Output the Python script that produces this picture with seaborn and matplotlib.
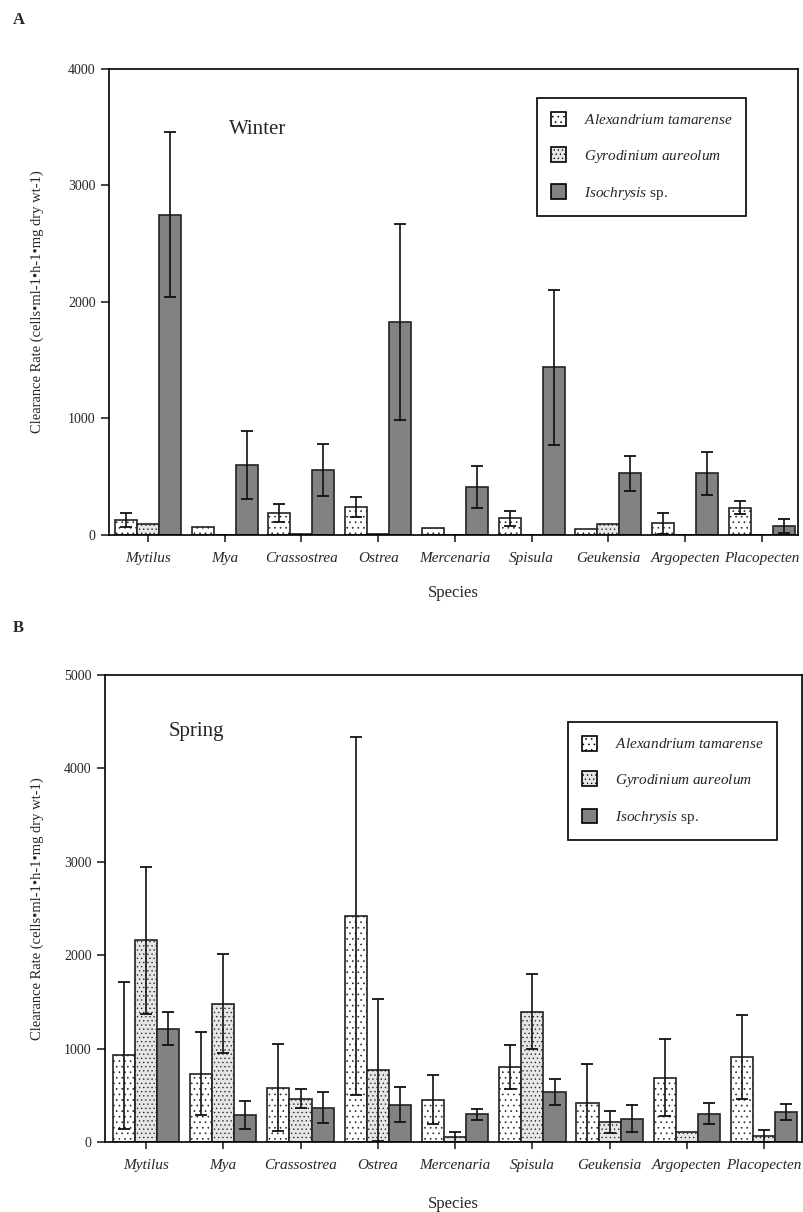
import numpy as np
import pandas as pd
import matplotlib
matplotlib.use("Agg")
import matplotlib.pyplot as plt
import seaborn as sns
from matplotlib.patches import Patch

species = ["Mytilus", "Mya", "Crassostrea", "Ostrea", "Mercenaria",
           "Spisula", "Geukensia", "Argopecten", "Placopecten"]
algae = ["Alexandrium tamarense", "Gyrodinium aureolum", "Isochrysis sp."]

# winter means and SDs (cells/ml/h/mg dry wt)
winter_alex = [129, 70, 190, 240, 60, 145, 50, 100, 235]
winter_alex_sd = [60, 0, 75, 85, 0, 65, 0, 90, 55]
winter_gyro = [95, 0, 10, 10, 0, 0, 90, 0, 0]
winter_gyro_sd = [0, 0, 0, 0, 0, 0, 0, 0, 0]
winter_iso = [2750, 600, 558, 1825, 410, 1440, 530, 530, 75]
winter_iso_sd = [705, 295, 220, 840, 180, 665, 150, 185, 60]

# spring means and SDs
spring_alex = [928, 732, 582, 2418, 453, 803, 418, 689, 910]
spring_alex_sd = [786, 440, 464, 1920, 265, 240, 420, 410, 450]
spring_gyro = [2160, 1482, 464, 775, 54, 1393, 214, 107, 61]
spring_gyro_sd = [785, 525, 100, 760, 55, 400, 122, 0, 62]
spring_iso = [1214, 286, 368, 400, 296, 536, 250, 304, 321]
spring_iso_sd = [180, 150, 165, 185, 62, 140, 145, 115, 90]

sns.set_style("ticks")
plt.rcParams["font.family"] = ["Liberation Serif", "DejaVu Serif"]
plt.rcParams["mathtext.fontset"] = "custom"
plt.rcParams["mathtext.rm"] = "Liberation Serif"
plt.rcParams["mathtext.it"] = "Liberation Serif:italic"
plt.rcParams["hatch.linewidth"] = 0.45

faces = ["white", "#e6e6e6", "#828282"]
hatches = ["...", "....", ""]
legend_labels = [r"$\mathit{Alexandrium\ tamarense}$",
                 r"$\mathit{Gyrodinium\ aureolum}$",
                 r"$\mathit{Isochrysis}$ sp."]
ylab = "Clearance Rate (cells\u2022ml-1\u2022h-1\u2022mg dry wt-1)"


def make_frame(means, sds):
    rows = []
    for alga, m, s in zip(algae, means, sds):
        for sp, v, e in zip(species, m, s):
            rows.append({"Species": sp, "Alga": alga, "Rate": v, "SD": e})
    return pd.DataFrame(rows)


def draw_panel(ax, df, ymax, xlim, season, season_xy, leg_anchor, ylab_x, xlab_y):
    sns.barplot(data=df, x="Species", y="Rate", hue="Alga", order=species,
                hue_order=algae, palette=faces, width=0.86, errorbar=None,
                edgecolor="#222222", linewidth=1.2, saturation=1, ax=ax)
    bar_groups = list(ax.containers)[:3]
    for i, cont in enumerate(bar_groups):
        sub = df[df["Alga"] == algae[i]].set_index("Species").loc[species]
        for bar, (_, row) in zip(cont, sub.iterrows()):
            bar.set_hatch(hatches[i])
            if row["SD"] <= 0:
                continue
            xc = bar.get_x() + bar.get_width() / 2
            h = bar.get_height()
            lo = min(row["SD"], h)
            ax.errorbar(xc, h, yerr=[[lo], [row["SD"]]], fmt="none",
                        ecolor="#111111", elinewidth=1.2, capsize=4,
                        capthick=1.3, zorder=4)
    ax.get_legend().remove()
    handles = [Patch(facecolor=faces[i], edgecolor="black", hatch=hatches[i],
                     linewidth=1.2, label=legend_labels[i]) for i in range(3)]
    ax.legend(handles=handles, loc="upper left", bbox_to_anchor=leg_anchor,
              fontsize=11, frameon=True, fancybox=False, edgecolor="black",
              framealpha=1, handlelength=1.0, handleheight=1.1,
              handletextpad=1.2, labelspacing=1.3, borderpad=0.9,
              borderaxespad=0)
    ax.get_legend().get_frame().set_linewidth(1.2)
    ax.set_ylim(0, ymax)
    ax.set_xlim(*xlim)
    ax.set_yticks(np.arange(0, ymax + 1, 1000))
    ax.tick_params(axis="y", labelsize=10, direction="out", length=6, width=1.2)
    ax.tick_params(axis="x", labelsize=11, direction="out", length=5, width=1.2, pad=7)
    for lab in ax.get_xticklabels():
        lab.set_fontstyle("italic")
    for sp in ax.spines.values():
        sp.set_visible(True)
        sp.set_linewidth(1.2)
        sp.set_color("black")
    ax.set_ylabel(ylab, fontsize=10.5)
    ax.yaxis.set_label_coords(ylab_x, 0.5)
    ax.set_xlabel("Species", fontsize=12)
    ax.xaxis.set_label_coords(0.5, xlab_y)
    ax.text(season_xy[0], season_xy[1], season, transform=ax.transAxes,
            fontsize=15, ha="center", va="center")


fig = plt.figure(figsize=(8.04, 12.12), dpi=100)
axA = fig.add_axes([0.1356, 0.5586, 0.857, 0.3845])
axB = fig.add_axes([0.1306, 0.0578, 0.867, 0.3853])

winter = make_frame([winter_alex, winter_gyro, winter_iso],
                    [winter_alex_sd, winter_gyro_sd, winter_iso_sd])
spring = make_frame([spring_alex, spring_gyro, spring_iso],
                    [spring_alex_sd, spring_gyro_sd, spring_iso_sd])

draw_panel(axA, winter, 4000, (-0.506, 8.47), "Winter", (0.216, 0.871),
           (0.621, 0.938), -0.094, -0.107)
draw_panel(axB, spring, 5000, (-0.53, 8.49), "Spring", (0.131, 0.878),
           (0.664, 0.899), -0.0875, -0.116)

fig.text(0.016, 0.9835, "A", fontsize=12, fontweight="bold", va="center")
fig.text(0.016, 0.482, "B", fontsize=12, fontweight="bold", va="center")

fig.savefig("out.png", dpi=100)
